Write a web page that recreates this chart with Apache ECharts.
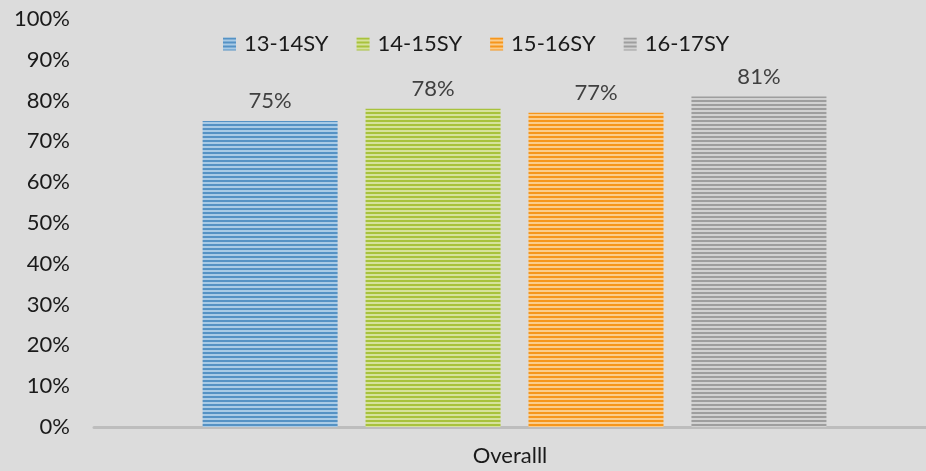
<!DOCTYPE html>
<html>
<head>
<meta charset="utf-8">
<script src="https://cdn.jsdelivr.net/npm/echarts@6/dist/echarts.min.js"></script>
<style>
  html, body { margin: 0; padding: 0; background: #dcdcdc; }
  #chart { width: 926px; height: 471px; }
</style>
</head>
<body>
<div id="chart"></div>
<script>
// 数据
const categories = ['Overalll'];
const seriesNames = ['13-14SY', '14-15SY', '15-16SY', '16-17SY'];
const seriesValues = [75, 78, 77, 81];

// 条纹配色：[深色, 浅色]
const STRIPES = [
  ['#5592c4', '#a9cbe6'],
  ['#a8c23c', '#d6e29c'],
  ['#f6961c', '#fbcd8c'],
  ['#9e9e9e', '#d2d2d2'],
];

const FONT = 'Lato, "Open Sans", sans-serif';
const FS = 22;
const BAR_GAP = 0.207;

/** 横向细条纹图案 */
function stripePattern(dark, light) {
  const c = document.createElement('canvas');
  c.width = 4;
  c.height = 4;
  const ctx = c.getContext('2d');
  ctx.fillStyle = light;
  ctx.fillRect(0, 0, 4, 4);
  ctx.fillStyle = dark;
  ctx.fillRect(0, 0, 4, 2);
  return { image: c, repeat: 'repeat' };
}

const barSeries = seriesNames.map((name, i) => ({
  name,
  type: 'bar',
  data: [seriesValues[i]],
  barWidth: 135,
  barGap: BAR_GAP * 100 + '%',
  itemStyle: { color: stripePattern(STRIPES[i][0], STRIPES[i][1]) },
  label: {
    show: true,
    position: 'top',
    distance: 9,
    fontFamily: FONT,
    fontSize: FS,
    color: '#404040',
    formatter: (p) => p.value + '%',
  },
}));

// 空占位列：把整组柱子向右挪几像素（原图的组中心略偏右）
const spacer = {
  name: '_spacer',
  type: 'bar',
  data: ['-'],
  barWidth: 7.5,
  silent: true,
};

const chart = echarts.init(document.getElementById('chart'));
chart.setOption({
  backgroundColor: '#dcdcdc',
  animation: false,
  textStyle: { fontFamily: FONT },
  legend: {
    top: 28,
    left: 218,
    icon: 'rect',
    itemWidth: 13,
    itemHeight: 13,
    itemGap: 28,
    textStyle: { fontFamily: FONT, fontSize: FS, color: '#1a1a1a', padding: [0, 0, 0, 3] },
    data: seriesNames,
  },
  grid: { left: 94, right: 0, top: 19, bottom: 44 },
  xAxis: {
    type: 'category',
    data: categories,
    axisLine: { lineStyle: { color: '#bdbdbd', width: 3 } },
    axisTick: { show: false },
    axisLabel: { fontFamily: FONT, fontSize: FS, color: '#1a1a1a', margin: 18 },
  },
  yAxis: {
    type: 'value',
    min: 0,
    max: 100,
    interval: 10,
    axisLine: { show: false },
    axisTick: { show: false },
    splitLine: { show: false },
    axisLabel: {
      fontFamily: FONT, fontSize: FS, color: '#1a1a1a', margin: 24,
      formatter: (v) => v + '%',
    },
  },
  series: [spacer, ...barSeries],
});
</script>
</body>
</html>
